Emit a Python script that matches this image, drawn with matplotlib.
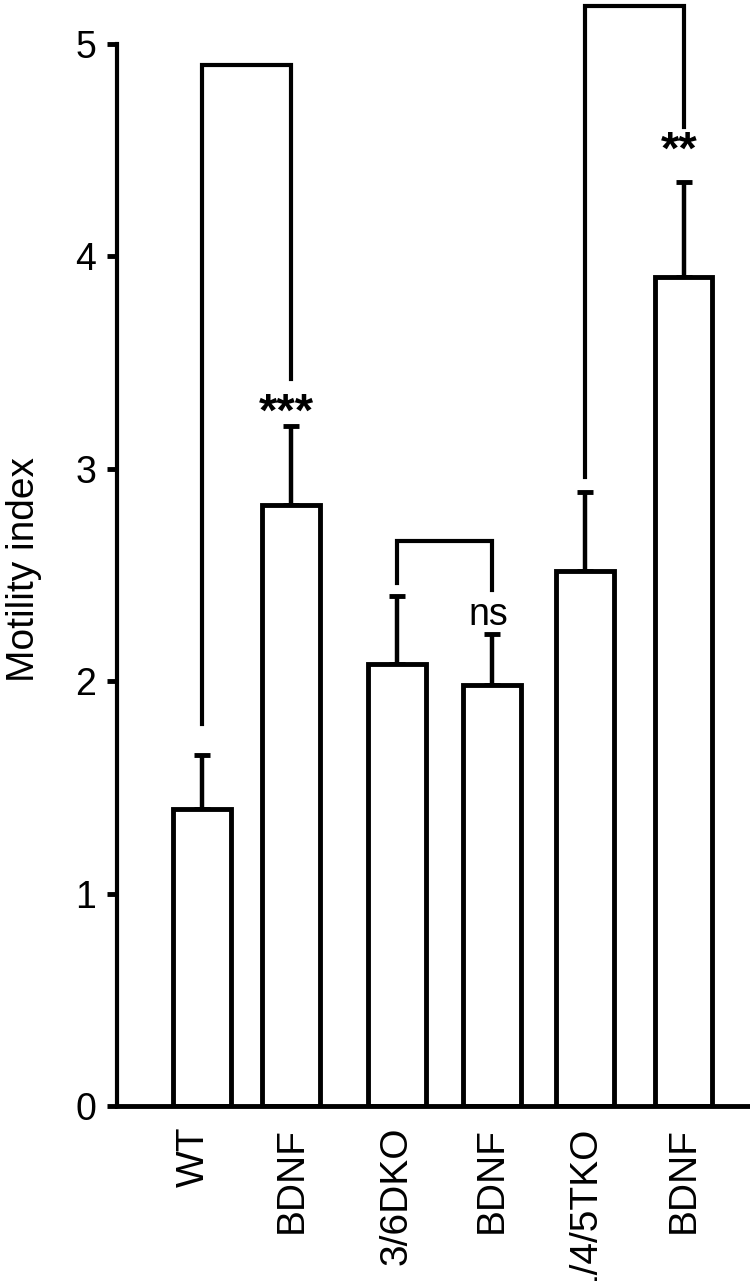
import numpy as np
import matplotlib.pyplot as plt
from matplotlib.transforms import ScaledTranslation

plt.rcParams['font.family'] = ['Liberation Sans', 'DejaVu Sans']

# ---- dane
labels = ['WT', 'BDNF', '3/6DKO', 'BDNF', '1/4/5TKO', 'BDNF']
xpos = [0, 0.94, 2.05, 3.05, 4.03, 5.07]
means = [1.40, 2.83, 2.08, 1.98, 2.52, 3.90]
errs = [0.25, 0.37, 0.32, 0.24, 0.37, 0.45]

# brackets: (left bar, right bar, left bottom, top, right bottom)
brackets = [(0, 1, 1.80, 4.90, 3.42),
            (2, 3, 2.46, 2.66, 2.43),
            (4, 5, 2.96, 5.18, 4.61)]
stars = [(1, 3.26, '***'), (3, 2.31, 'ns'), (5, 4.49, '**')]

fig = plt.figure(figsize=(7.5, 12.81), dpi=100)
ax = fig.add_axes([0.156, 1 - 1106 / 1281, 0.844, 1106 / 1281])

ax.bar(xpos, means, width=0.61, color='white', edgecolor='black',
       linewidth=3.5, zorder=2)
ax.errorbar(xpos, means, yerr=[np.zeros(len(errs)), errs], fmt='none',
            ecolor='black', elinewidth=3.2, capsize=5.5, capthick=3.5,
            zorder=1)

for i, j, yl, yt, yr in brackets:
    ax.plot([xpos[i], xpos[i], xpos[j], xpos[j]], [yl, yt, yt, yr],
            color='black', linewidth=3, solid_joinstyle='miter', zorder=3)

for i, y, s in stars:
    if s == 'ns':
        ax.text(xpos[i] - 0.03, y, s, ha='center', va='center', fontsize=27)
    else:
        ax.text(xpos[i] - 0.05, y, s, ha='center', va='center', fontsize=34,
                fontweight='bold')

ax.set_xlim(-0.895, 5.77)
ax.set_ylim(0, 5.206)
ax.set_yticks([0, 1, 2, 3, 4, 5])
ax.set_xticks(xpos)
ax.set_xticklabels(labels, rotation=90, fontsize=28)
ax.tick_params(axis='x', length=0, pad=15)
ax.tick_params(axis='y', length=7, width=3.5, labelsize=27, pad=8)
# WT troche w lewo
wt = ax.get_xticklabels()[0]
wt.set_transform(wt.get_transform() + ScaledTranslation(-8 / 100, 0, fig.dpi_scale_trans))

ax.spines['top'].set_visible(False)
ax.spines['right'].set_visible(False)
ax.spines['left'].set_linewidth(3)
ax.spines['bottom'].set_linewidth(3.5)
ax.spines['left'].set_bounds(0, 5)
ax.set_ylabel('Motility index', fontsize=28, labelpad=24, y=0.485)

fig.savefig('out.png', dpi=100)
